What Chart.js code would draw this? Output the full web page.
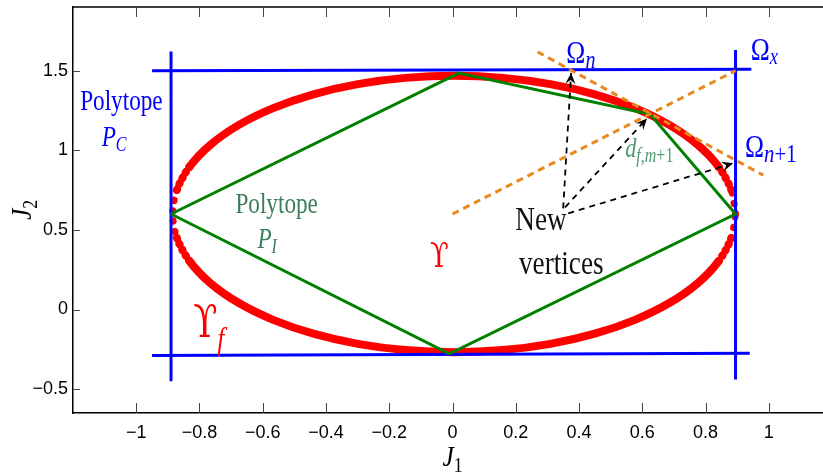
<!DOCTYPE html>
<html><head><meta charset="utf-8">
<script src="https://cdn.jsdelivr.net/npm/chart.js@4/dist/chart.umd.min.js"></script>
<style>html,body{margin:0;padding:0;overflow:hidden;background:#fff}#wrap{width:840px;height:472px;position:relative}</style>
</head><body><div id="wrap"><canvas id="c"></canvas></div>
<script>
// ---- data ----
const xTicks = [-1, -0.8, -0.6, -0.4, -0.2, 0, 0.2, 0.4, 0.6, 0.8, 1];
const yTicks = [-0.5, 0, 0.5, 1, 1.5];

// Upsilon_f boundary (red)
const ellipseX = [0.895,0.8815,0.8413,0.7757,0.6867,0.5771,0.45,0.3094,0.1595,0.005,-0.1495,-0.2994,-0.44,-0.5671,-0.6767,-0.7657,-0.8313,-0.8715,-0.885,-0.8715,-0.8313,-0.7657,-0.6767,-0.5671,-0.44,-0.2994,-0.1495,0.005,0.1595,0.3094,0.45,0.5771,0.6867,0.7757,0.8413,0.8815,0.895];
const ellipseY = [0.6,0.7507,0.8969,1.034,1.158,1.2649,1.3517,1.4157,1.4548,1.468,1.4548,1.4157,1.3517,1.2649,1.158,1.034,0.8969,0.7507,0.6,0.4493,0.3031,0.166,0.042,-0.0649,-0.1517,-0.2157,-0.2548,-0.268,-0.2548,-0.2157,-0.1517,-0.0649,0.042,0.166,0.3031,0.4493,0.6];

// Polytope P_I (green)
const polyIX = [-0.89, 0.02, 0.625, 0.895, -0.01, -0.89];
const polyIY = [0.6, 1.485, 1.226, 0.6, -0.278, 0.6];

// Polytope P_C (blue lines)
const pcTopX = [-0.95, 0.945], pcTopY = [1.50, 1.509];
const pcBottomX = [-0.95, 0.94], pcBottomY = [-0.289, -0.275];
const pcLeftX = [-0.89, -0.89], pcLeftY = [1.62, -0.45];
const pcRightX = [0.895, 0.895], pcRightY = [1.63, -0.44];

// orange dashed construction lines
const tangentX = [0.269, 0.983], tangentY = [1.618, 0.843];
const radialX = [0, 0.895], radialY = [0.6, 1.5];

// black dashed arrows ("New vertices")
const arrowFromX = [0.35, 0.356, 0.366], arrowFromY = [0.635, 0.642, 0.604];
const arrowToX = [0.375, 0.615, 0.887], arrowToY = [1.486, 1.2, 0.918];

// ---- helpers ----
const pts = (xs, ys) => xs.map((x, i) => ({x, y: ys[i]}));
const line = (data, color, width, order, extra) => Object.assign({
  data, showLine: true, borderColor: color, backgroundColor: color, borderWidth: width,
  pointRadius: 0, pointHoverRadius: 0, order, fill: false, tension: 0
}, extra || {});

// near the left/right extremes the sampled markers separate into dots
const sideDots = new Set([0, 17, 18, 35]);
const sideLoose = new Set([1, 16, 19, 34]);

const datasets = [
  line(pts(ellipseX, ellipseY), '#ff0000', 8, 10, {
    tension: 0.3, borderJoinStyle: 'round', borderCapStyle: 'round',
    segment: {
      borderDash: c => sideDots.has(c.p0DataIndex) ? [0.5, 10] : (sideLoose.has(c.p0DataIndex) ? [0.5, 6] : undefined),
      borderWidth: c => sideDots.has(c.p0DataIndex) ? 7 : undefined
    }
  }),
  line(pts(pcTopX, pcTopY), '#0000ff', 3, 8),
  line(pts(pcBottomX, pcBottomY), '#0000ff', 3, 8),
  line(pts(pcLeftX, pcLeftY), '#0000ff', 3, 8),
  line(pts(pcRightX, pcRightY), '#0000ff', 3, 8),
  line(pts(polyIX, polyIY), '#008000', 3, 6),
  line(pts(tangentX, tangentY), '#e8891c', 3, 4, {borderDash: [7, 5]}),
  line(pts(radialX, radialY), '#e8891c', 3, 4, {borderDash: [7, 5]}),
];
const arrowStart = datasets.length;
for (let i = 0; i < arrowFromX.length; i++) {
  datasets.push(line([{x: arrowFromX[i], y: arrowFromY[i]}, {x: arrowToX[i], y: arrowToY[i]}], '#000', 1.8, 2, {borderDash: [6, 5]}));
}

// text annotations (data coordinates)
const SERIF = '"Liberation Serif", "DejaVu Serif", serif';
const blue = '#0000ff', red = '#ff0000', tgreen = '#3b7d58', dgreen = '#4f9a70';
const labels = [
  {x: -1.047, y: 1.252, align: 'center', runs: [{t: 'Polytope', font: '29px ' + SERIF, color: blue}]},
  {x: -1.07, y: 1.03, align: 'center', runs: [{t: 'P', font: 'italic 29px ' + SERIF, color: blue}, {t: 'C', font: 'italic 20px ' + SERIF, color: blue, dy: 5}]},
  {x: -0.556, y: 0.604, align: 'center', runs: [{t: 'Polytope', font: '29px ' + SERIF, color: tgreen}]},
  {x: -0.586, y: 0.384, align: 'center', runs: [{t: 'P', font: 'italic 29px ' + SERIF, color: tgreen}, {t: 'I', font: 'italic 20px ' + SERIF, color: tgreen, dy: 5}]},
  {x: -0.042, y: 0.264, align: 'center', runs: [{t: 'ϒ', font: '34px "DejaVu Serif", serif', color: red}]},
  {x: -0.82, y: -0.17, align: 'left', runs: [{t: 'ϒ', font: '44px "DejaVu Serif", serif', color: red}, {t: 'f', font: 'italic 32px ' + SERIF, color: red, dy: 12}]},
  {x: 0.36, y: 1.547, align: 'left', runs: [{t: 'Ω', font: '32px ' + SERIF, color: blue}, {t: 'n', font: 'italic 25px ' + SERIF, color: blue, dy: 5}]},
  {x: 0.943, y: 1.566, align: 'left', runs: [{t: 'Ω', font: '32px ' + SERIF, color: blue}, {t: 'x', font: 'italic 23px ' + SERIF, color: blue, dy: 4}]},
  {x: 0.925, y: 0.956, align: 'left', runs: [{t: 'Ω', font: '32px ' + SERIF, color: blue}, {t: 'n', font: 'italic 26px ' + SERIF, color: blue, dy: 5}, {t: '+1', font: '26px ' + SERIF, color: blue, dy: 5}]},
  {x: 0.546, y: 0.956, align: 'left', runs: [{t: 'd', font: 'italic 28px ' + SERIF, color: dgreen}, {t: 'f,m', font: 'italic 20px ' + SERIF, color: dgreen, dy: 5}, {t: '+1', font: '20px ' + SERIF, color: dgreen, dy: 5}]},
  {x: 0.28, y: 0.497, align: 'center', runs: [{t: 'New', font: '34px ' + SERIF, color: '#111'}]},
  {x: 0.344, y: 0.226, align: 'center', runs: [{t: 'vertices', font: '34px ' + SERIF, color: '#111'}]},
];

function drawRuns(ctx, runs, x, y, align, sx) {
  let w = 0;
  runs.forEach(r => { ctx.font = r.font; r.w = ctx.measureText(r.t).width * sx; w += r.w; });
  let cx = align === 'center' ? x - w / 2 : x;
  runs.forEach(r => {
    ctx.save();
    ctx.font = r.font; ctx.fillStyle = r.color; ctx.textBaseline = 'alphabetic'; ctx.textAlign = 'left';
    ctx.translate(cx, y + (r.dy || 0)); ctx.scale(sx, 1);
    ctx.fillText(r.t, 0, 0);
    ctx.restore();
    cx += r.w;
  });
}

const decor = {
  id: 'decor',
  afterDatasetsDraw(chart) {
    const ctx = chart.ctx, a = chart.chartArea, xs = chart.scales.x, ys = chart.scales.y;
    // arrowheads
    for (let i = arrowStart; i < datasets.length; i++) {
      const m = chart.getDatasetMeta(i).data;
      const p0 = m[0], p1 = m[1];
      const ang = Math.atan2(p1.y - p0.y, p1.x - p0.x);
      const L = 11, W = 5;
      ctx.save();
      ctx.translate(p1.x, p1.y); ctx.rotate(ang);
      ctx.beginPath();
      ctx.moveTo(0, 0); ctx.lineTo(-L, -W); ctx.lineTo(-L * 0.65, 0); ctx.lineTo(-L, W); ctx.closePath();
      ctx.fillStyle = '#000'; ctx.fill();
      ctx.restore();
    }
    // top border + inward ticks
    ctx.save();
    ctx.strokeStyle = '#000'; ctx.lineWidth = 1.5;
    ctx.beginPath(); ctx.moveTo(a.left, a.top); ctx.lineTo(a.right + 2, a.top); ctx.stroke();
    ctx.strokeStyle = '#444'; ctx.lineWidth = 1;
    ctx.beginPath();
    xTicks.forEach(v => {
      const px = Math.round(xs.getPixelForValue(v)) + 0.5;
      ctx.moveTo(px, a.bottom); ctx.lineTo(px, a.bottom - 10);
      ctx.moveTo(px, a.top); ctx.lineTo(px, a.top + 10);
    });
    yTicks.forEach(v => {
      const py = Math.round(ys.getPixelForValue(v)) + 0.5;
      ctx.moveTo(a.left, py); ctx.lineTo(a.left + 7, py);
    });
    ctx.stroke();
    ctx.restore();
    // annotations
    labels.forEach(l => drawRuns(ctx, l.runs, xs.getPixelForValue(l.x), ys.getPixelForValue(l.y), l.align, 0.8));
    // axis titles
    drawRuns(ctx, [{t: 'J', font: 'italic 30px ' + SERIF, color: '#000'}, {t: '1', font: '21px ' + SERIF, color: '#000', dy: 6}], (a.left + a.right) / 2, a.bottom + 53, 'center', 0.85);
    ctx.save();
    ctx.translate(31, (a.top + a.bottom) / 2);
    ctx.rotate(-Math.PI / 2);
    drawRuns(ctx, [{t: 'J', font: 'italic 30px ' + SERIF, color: '#000'}, {t: '2', font: '21px ' + SERIF, color: '#000', dy: 6}], 0, 0, 'center', 0.85);
    ctx.restore();
  }
};

const fmt = v => (v < 0 ? '\u2212' : '') + String(Math.abs(v));

new Chart(document.getElementById('c'), {
  type: 'scatter',
  data: {datasets},
  options: {
    responsive: true, maintainAspectRatio: false, animation: false,
    layout: {padding: {top: 7, right: 8, left: 0, bottom: 0}},
    plugins: {legend: {display: false}, tooltip: {enabled: false}},
    scales: {
      x: {
        type: 'linear', min: -1.2, max: 1.2,
        afterBuildTicks: s => { s.ticks = xTicks.map(v => ({value: v})); },
        afterFit: s => { s.height = 59; s.paddingLeft = 0; s.paddingRight = 0; },
        grid: {display: false, drawTicks: false},
        border: {display: true, color: '#000', width: 1.5},
        ticks: {callback: fmt, font: {family: 'Liberation Sans', size: 18}, color: '#000', padding: 9, maxRotation: 0, autoSkip: false}
      },
      y: {
        type: 'linear', min: -0.65, max: 1.9,
        afterBuildTicks: s => { s.ticks = yTicks.map(v => ({value: v})); },
        afterFit: s => { s.width = 73; s.paddingTop = 0; s.paddingBottom = 0; },
        grid: {display: false, drawTicks: false},
        border: {display: true, color: '#000', width: 1.5},
        ticks: {callback: fmt, font: {family: 'Liberation Sans', size: 18}, color: '#000', padding: 5, autoSkip: false}
      }
    }
  },
  plugins: [decor]
});
</script>
</body></html>
